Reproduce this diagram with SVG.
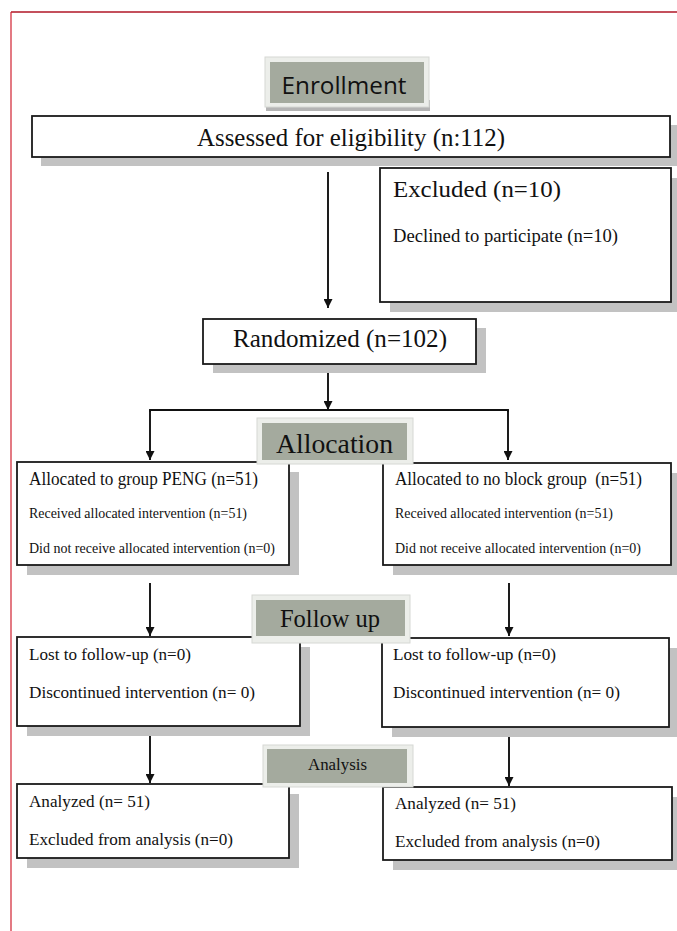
<svg xmlns="http://www.w3.org/2000/svg" width="677" height="931" viewBox="0 0 677 931">
<style>
.box{fill:#fff;stroke:#1a1a1a;stroke-width:1.8}
.sh{fill:#c2c2c2}
.lblo{fill:#eceeea;stroke:#d6d8d4;stroke-width:1}
.lbli{fill:#a4aa9e}
.t{font-family:"Liberation Serif","Times New Roman",serif;fill:#111}
.s{font-family:"Open Sans","Noto Sans",sans-serif;fill:#111}
.ln{stroke:#111;stroke-width:1.9;fill:none}
</style>
<defs>
<marker id="ah" viewBox="0 0 10 10" refX="10" refY="5" markerWidth="10" markerHeight="9" orient="auto" markerUnits="userSpaceOnUse">
<path d="M0,0 L10,5 L0,10 z" fill="#111"/>
</marker>
</defs>
<rect width="677" height="931" fill="#fff"/>
<g id="frame">
<line x1="11" y1="12" x2="677" y2="12" stroke="#c4505c" stroke-width="2"/>
<line x1="11" y1="12" x2="11" y2="931" stroke="#d02030" stroke-width="1.2"/>
</g>

<g id="connectors">
<line class="ln" x1="328" y1="172" x2="328" y2="308" marker-end="url(#ah)"/>
<line class="ln" x1="328" y1="364" x2="328" y2="410" marker-end="url(#ah)"/>
<polyline class="ln" points="150,412 150,410 508,410 508,412" />
<line class="ln" x1="150" y1="410" x2="150" y2="460" marker-end="url(#ah)"/>
<line class="ln" x1="508" y1="410" x2="508" y2="460" marker-end="url(#ah)"/>
<line class="ln" x1="150" y1="583" x2="150" y2="636" marker-end="url(#ah)"/>
<line class="ln" x1="509" y1="583" x2="509" y2="636" marker-end="url(#ah)"/>
<line class="ln" x1="150" y1="726" x2="150" y2="783" marker-end="url(#ah)"/>
<line class="ln" x1="509" y1="727" x2="509" y2="786" marker-end="url(#ah)"/>
</g>

<g id="enrollment">
<rect x="266" y="100" width="164" height="11" fill="#b4b4b4"/>
<rect class="lblo" x="265" y="57" width="164" height="50"/>
<rect class="lbli" x="270" y="62" width="154" height="41"/>
<text class="s" x="281.5" y="94" font-size="24" textLength="125" lengthAdjust="spacingAndGlyphs">Enrollment</text>
</g>

<g id="assessed">
<rect class="sh" x="41" y="125" width="638" height="41"/>
<rect class="box" x="32" y="116" width="638" height="41"/>
<text class="t" x="197" y="146" font-size="25" textLength="308" lengthAdjust="spacingAndGlyphs">Assessed for eligibility (n:112)</text>
</g>

<g id="excluded">
<rect class="sh" x="390" y="178" width="291" height="134"/>
<rect class="box" x="380" y="168" width="291" height="134"/>
<text class="t" x="393" y="197" font-size="24" textLength="168" lengthAdjust="spacingAndGlyphs">Excluded (n=10)</text>
<text class="t" x="393" y="242" font-size="19" textLength="225" lengthAdjust="spacingAndGlyphs">Declined to participate (n=10)</text>
</g>

<g id="randomized">
<rect class="sh" x="213" y="328" width="273" height="45"/>
<rect class="box" x="203" y="319" width="273" height="45"/>
<text class="t" x="233" y="347" font-size="25" textLength="214" lengthAdjust="spacingAndGlyphs">Randomized (n=102)</text>
</g>

<g id="alloc-left">
<rect class="sh" x="27" y="472" width="272" height="103"/>
<rect class="box" x="17" y="462" width="272" height="103"/>
<text class="t" x="29" y="485" font-size="18" textLength="229" lengthAdjust="spacingAndGlyphs">Allocated to group PENG (n=51)</text>
<text class="t" x="29" y="518" font-size="14" textLength="218" lengthAdjust="spacingAndGlyphs">Received allocated intervention (n=51)</text>
<text class="t" x="29" y="553" font-size="14" textLength="246" lengthAdjust="spacingAndGlyphs">Did not receive allocated intervention (n=0)</text>
</g>

<g id="alloc-right">
<rect class="sh" x="393" y="473" width="290" height="102"/>
<rect class="box" x="383" y="463" width="288" height="102"/>
<text class="t" x="395" y="485" font-size="18" textLength="247" lengthAdjust="spacingAndGlyphs" style="white-space:pre">Allocated to no block group  (n=51)</text>
<text class="t" x="395" y="518" font-size="14" textLength="218" lengthAdjust="spacingAndGlyphs">Received allocated intervention (n=51)</text>
<text class="t" x="395" y="553" font-size="14" textLength="246" lengthAdjust="spacingAndGlyphs">Did not receive allocated intervention (n=0)</text>
</g>

<g id="allocation">
<rect class="lblo" x="257" y="418" width="156" height="46"/>
<rect class="lbli" x="262" y="423" width="145" height="37"/>
<text class="t" x="276" y="453" font-size="28" textLength="117" lengthAdjust="spacingAndGlyphs">Allocation</text>
</g>

<g id="follow-left">
<rect class="sh" x="27" y="647" width="283" height="89"/>
<rect class="box" x="17" y="637" width="283" height="89"/>
<text class="t" x="29" y="660" font-size="17" textLength="162" lengthAdjust="spacingAndGlyphs">Lost to follow-up (n=0)</text>
<text class="t" x="29" y="698" font-size="17" textLength="226" lengthAdjust="spacingAndGlyphs">Discontinued intervention (n= 0)</text>
</g>

<g id="follow-right">
<rect class="sh" x="392" y="648" width="290" height="89"/>
<rect class="box" x="382" y="638" width="287" height="89"/>
<text class="t" x="393" y="660" font-size="17" textLength="163" lengthAdjust="spacingAndGlyphs">Lost to follow-up (n=0)</text>
<text class="t" x="393" y="698" font-size="17" textLength="227" lengthAdjust="spacingAndGlyphs">Discontinued intervention (n= 0)</text>
</g>

<g id="followup">
<rect class="lblo" x="252" y="595" width="158" height="48"/>
<rect class="lbli" x="256" y="600" width="149" height="36"/>
<text class="t" x="280" y="627" font-size="25" textLength="100" lengthAdjust="spacingAndGlyphs">Follow up</text>
</g>

<g id="analysis-left">
<rect class="sh" x="27" y="794" width="272" height="74"/>
<rect class="box" x="17" y="784" width="272" height="74"/>
<text class="t" x="29" y="807" font-size="17" textLength="121" lengthAdjust="spacingAndGlyphs">Analyzed (n= 51)</text>
<text class="t" x="29" y="845" font-size="17" textLength="204" lengthAdjust="spacingAndGlyphs">Excluded from analysis (n=0)</text>
</g>

<g id="analysis-right">
<rect class="sh" x="393" y="797" width="290" height="73"/>
<rect class="box" x="383" y="787" width="289" height="73"/>
<text class="t" x="395" y="809" font-size="17" textLength="121" lengthAdjust="spacingAndGlyphs">Analyzed (n= 51)</text>
<text class="t" x="395" y="847" font-size="17" textLength="205" lengthAdjust="spacingAndGlyphs">Excluded from analysis (n=0)</text>
</g>

<g id="analysis">
<rect class="lblo" x="263" y="745" width="150" height="42"/>
<rect class="lbli" x="267" y="749" width="140" height="34"/>
<text class="t" x="308" y="770" font-size="17" textLength="59" lengthAdjust="spacingAndGlyphs">Analysis</text>
</g>
</svg>
